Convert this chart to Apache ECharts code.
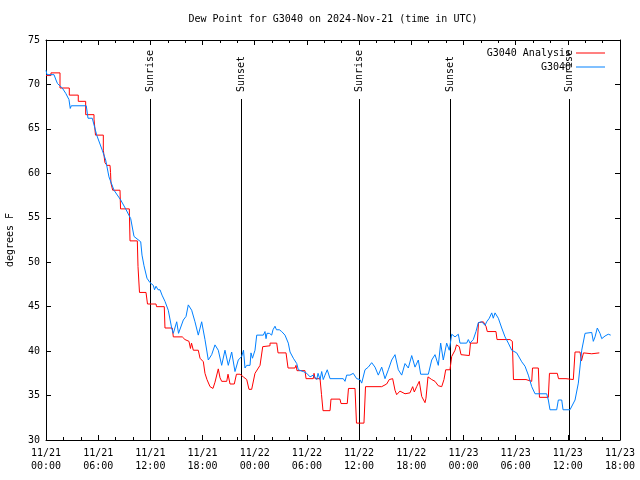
<!DOCTYPE html>
<html><head><meta charset="utf-8">
<script src="https://cdn.jsdelivr.net/npm/echarts@6.0.0/dist/echarts.min.js"></script>
<style>html,body{margin:0;padding:0;background:#fff}#c{width:640px;height:480px}</style>
</head><body><div id="c"></div>
<script>
// x in hours since 2024-11-21 00:00 UTC
const xTickLabels = ['11/21\n00:00','11/21\n06:00','11/21\n12:00','11/21\n18:00','11/22\n00:00','11/22\n06:00','11/22\n12:00','11/22\n18:00','11/23\n00:00','11/23\n06:00','11/23\n12:00','11/23\n18:00'];
const yTicks = [30,35,40,45,50,55,60,65,70,75];

const analysisHours = [0.00,0.57,0.57,1.61,1.61,2.68,2.68,3.71,3.71,4.56,4.56,5.52,5.52,5.63,5.69,6.59,6.59,6.78,6.78,7.01,7.36,7.42,7.47,7.67,7.67,8.51,8.57,9.58,9.66,10.50,10.58,10.75,11.50,11.67,12.65,12.71,13.60,13.68,14.52,14.64,15.67,15.98,16.44,16.61,16.73,16.94,17.51,17.71,18.09,18.28,18.51,18.86,19.20,19.43,19.81,20.01,20.20,20.78,20.93,21.16,21.65,21.90,22.31,
22.69,23.08,23.34,23.65,24.03,24.61,24.92,25.76,25.76,26.53,26.68,27.60,27.83,28.63,28.75,28.86,29.78,29.90,30.73,30.82,30.93,31.51,31.68,31.85,32.66,32.77,33.80,33.92,34.64,34.78,35.53,35.70,36.56,36.74,
38.60,39.17,39.47,39.86,40.13,40.32,40.70,41.28,41.85,42.16,42.35,42.62,42.92,43.20,43.58,43.69,43.92,44.35,44.73,45.11,45.50,45.76,45.96,46.45,46.65,47.03,47.20,47.52,47.72,48.67,48.81,49.59,49.73,50.28,50.59,50.74,51.74,51.86,53.35,53.62,53.75,55.19,55.36,55.85,55.94,56.61,56.74,57.76,57.89,58.79,58.93,59.79,59.91,60.63,60.83,61.40,61.57,61.80,62.75,63.62];
const analysisValues = [71.0,71.0,71.3,71.3,69.6,69.6,68.8,68.8,68.1,68.1,66.6,66.6,66.1,66.1,64.3,64.3,62.6,62.6,61.2,60.9,60.9,60.1,58.9,58.9,58.1,58.1,56.0,56.0,52.4,52.4,49.5,46.6,46.6,45.3,45.3,45.0,45.0,42.6,42.6,41.6,41.6,41.3,41.1,40.3,40.9,40.1,40.1,39.2,38.8,37.5,36.8,36.0,35.8,36.5,38.0,37.0,36.6,36.6,37.4,36.3,36.3,37.4,37.4,
37.1,36.8,35.7,35.7,37.5,38.4,40.5,40.6,40.9,40.9,39.8,39.8,38.1,38.1,38.4,37.8,37.8,36.9,36.9,37.5,36.9,36.9,35.1,33.3,33.3,34.6,34.6,34.1,34.1,35.8,35.8,31.9,31.9,36.0,
36.0,36.3,36.8,36.9,35.6,35.1,35.5,35.2,35.3,36.0,35.4,36.0,36.6,34.9,34.2,34.7,37.1,36.8,36.6,36.1,36.0,36.8,37.9,37.9,39.4,40.1,40.7,40.5,39.6,39.5,40.9,40.9,43.2,43.3,42.8,42.2,42.2,41.3,41.3,41.1,36.8,36.8,36.6,36.6,38.1,38.1,34.8,34.8,37.5,37.5,36.9,36.9,36.8,36.8,39.9,39.9,38.9,39.8,39.7,39.8];

const obsHours = [0.00,0.11,0.92,1.15,1.32,1.49,1.87,2.27,2.64,2.79,2.91,4.63,4.83,5.32,5.83,6.47,6.86,7.24,7.82,8.59,9.16,9.74,10.12,10.89,11.04,11.27,11.61,11.96,12.34,12.48,12.65,12.88,13.11,13.34,13.68,14.06,14.45,14.64,15.03,15.24,15.41,15.79,16.10,16.36,16.75,17.13,17.51,17.90,18.28,18.66,19.05,19.43,19.81,20.20,20.58,20.96,21.35,21.73,22.11,22.50,22.71,22.88,23.08,23.46,23.57,23.74,24.03,24.23,24.99,25.18,25.30,25.41,25.68,25.95,26.10,26.33,26.50,26.83,27.10,27.48,27.86,28.06,28.44,28.83,29.01,29.59,29.98,30.36,30.73,31.13,31.28,31.51,31.70,31.88,32.08,32.34,32.66,34.18,34.38,34.57,34.95,35.33,35.72,36.10,36.30,36.68,37.06,37.45,37.83,38.21,38.60,38.98,39.36,39.75,40.13,40.51,40.90,41.28,41.66,42.05,42.43,42.81,43.08,43.96,44.35,44.73,45.11,45.38,45.68,46.07,46.37,46.65,47.03,47.41,47.60,48.37,48.56,48.75,49.13,49.44,49.71,50.10,50.28,50.48,50.67,50.97,51.25,51.43,51.63,51.82,52.01,52.40,52.78,53.16,53.55,54.12,54.70,55.08,55.46,55.85,56.23,57.57,57.76,57.95,58.72,58.91,59.30,59.45,60.25,60.45,60.83,61.21,61.60,61.98,62.75,62.93,63.13,63.39,63.70,63.90,64.28,64.65,64.93];
const obsValues = [71.6,71.1,71.1,70.5,70.1,70.3,69.6,69.0,68.3,67.3,67.6,67.6,66.2,66.2,64.3,62.6,61.5,59.6,58.1,57.0,56.0,54.9,52.9,52.3,50.8,49.6,48.2,47.7,47.4,46.9,47.3,46.9,46.9,46.3,45.6,44.6,42.6,42.0,43.3,42.0,42.0,43.5,43.9,45.2,44.6,43.3,41.8,43.3,41.3,39.0,39.6,40.7,40.1,38.4,40.1,38.4,39.9,37.7,39.0,39.4,40.1,38.1,38.4,38.4,39.8,39.2,40.1,41.8,41.8,42.2,41.4,42.0,42.0,41.8,42.4,42.8,42.4,42.4,42.2,41.8,40.9,39.9,39.2,38.6,37.9,37.7,37.5,37.1,37.3,36.8,37.5,36.8,37.7,36.8,37.3,37.9,36.9,36.9,36.6,37.3,37.3,37.5,36.9,36.8,36.4,37.9,38.2,38.7,38.2,37.3,38.2,36.9,37.9,39.0,39.6,37.9,37.3,38.6,38.1,39.5,38.2,39.0,37.4,37.4,39.0,39.6,38.4,40.9,39.0,40.9,40.1,41.9,41.6,41.9,40.9,40.9,41.3,40.9,41.3,42.2,43.2,43.3,43.1,42.9,43.3,43.7,44.3,43.7,44.3,44.4,43.7,42.6,41.6,40.9,40.1,39.8,38.8,38.3,37.3,36.0,35.2,35.2,34.5,33.4,33.4,34.5,34.5,33.4,33.4,33.6,34.5,36.4,40.1,42.0,42.1,41.1,41.6,42.6,42.0,41.4,41.7,41.9,41.8];

const eventNames = ['Sunrise','Sunset','Sunrise','Sunset','Sunrise'];
const eventHours = [11.97, 22.46, 36.03, 46.49, 60.17];

const FONT = '"DejaVu Sans Mono", monospace';
const chart = echarts.init(document.getElementById('c'), null, {renderer:'canvas'});

function xAxisCfg(pos, showLabel) {
  return {
    type:'value', position: pos, min:0, max:66, interval:6,
    axisLine:{show:true, onZero:false, lineStyle:{color:'#000', width:1}},
    axisTick:{show:true, inside:true, length:5, lineStyle:{color:'#000'}},
    minorTick:{show:true, splitNumber:3, length:3, lineStyle:{color:'#000'}},
    splitLine:{show:false},
    axisLabel:{show:showLabel, margin:7, color:'#000', fontFamily:FONT, fontSize:10, lineHeight:13,
      formatter: v => xTickLabels[Math.round(v/6)]}
  };
}
function yAxisCfg(pos, showLabel) {
  return {
    type:'value', position: pos, min:30, max:75, interval:5,
    name: showLabel ? 'degrees F' : '', nameLocation:'middle', nameGap:31, nameRotate:90,
    nameTextStyle:{color:'#000', fontFamily:FONT, fontSize:10},
    axisLine:{show:true, onZero:false, lineStyle:{color:'#000', width:1}},
    axisTick:{show:true, inside:true, length:5, lineStyle:{color:'#000'}},
    splitLine:{show:false},
    axisLabel:{show:showLabel, margin:6, color:'#000', fontFamily:FONT, fontSize:10}
  };
}

const option = {
  animation:false,
  backgroundColor:'#fff',
  grid:{left:46, right:20, top:40, bottom:40, containLabel:false, outerBoundsMode:'none'},
  xAxis:[xAxisCfg('bottom', true), xAxisCfg('top', false)],
  yAxis:[yAxisCfg('left', true), yAxisCfg('right', false)],
  legend:{
    data:['G3040 Analysis','G3040'], orient:'vertical', right:30, top:42, align:'right',
    itemWidth:29, itemHeight:1, itemGap:2, icon:'rect', selectedMode:false,
    textStyle:{color:'#000', fontFamily:FONT, fontSize:10, lineHeight:12, padding:[0,0,0,0]}
  },
  series:[
    {name:'G3040 Analysis', type:'line', xAxisIndex:0, yAxisIndex:0, showSymbol:false, symbol:'none',
     color:'#ff0000', lineStyle:{width:1, color:'#ff0000'},
     data: analysisHours.map((h,i)=>[h, analysisValues[i]])},
    {name:'G3040', type:'line', xAxisIndex:0, yAxisIndex:0, showSymbol:false, symbol:'none',
     color:'#0080ff', lineStyle:{width:1, color:'#0080ff'},
     data: obsHours.map((h,i)=>[h, obsValues[i]])}
  ],
  graphic:[]
};
chart.setOption(option);

const gfx = [{type:'text', x:333, y:19, style:{text:'Dew Point for G3040 on 2024-Nov-21 (time in UTC)', font:'10px ' + FONT, fill:'#000', textAlign:'center', textVerticalAlign:'middle'}}];
eventHours.forEach((h,i)=>{
  const pb = chart.convertToPixel({xAxisIndex:0, yAxisIndex:0}, [h, 30]);
  const pt = chart.convertToPixel({xAxisIndex:0, yAxisIndex:0}, [h, 75]);
  const px = Math.round(pb[0]) + 0.5;
  gfx.push({type:'line', silent:true, shape:{x1:px, y1:pt[1]+59, x2:px, y2:pb[1]}, style:{stroke:'#000', lineWidth:1}});
  gfx.push({type:'text', silent:true, x:px, y:pt[1]+52, rotation:Math.PI/2,
    style:{text:eventNames[i], font:'10px ' + FONT, fill:'#000', textAlign:'left', textVerticalAlign:'middle'}});
});
chart.setOption({graphic: gfx});
</script>
</body></html>
